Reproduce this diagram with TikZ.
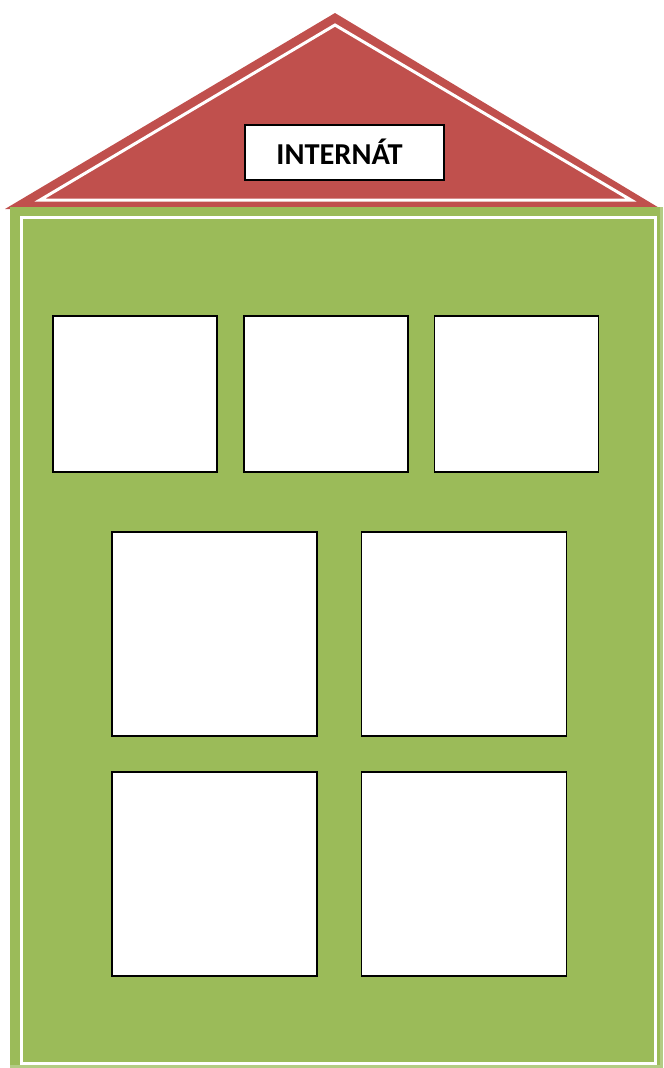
\documentclass[tikz,border=0pt]{standalone}
\usepackage{fontspec}
\setmainfont{Carlito}
\definecolor{roofred}{HTML}{C0504D}
\definecolor{bodygreen}{HTML}{9BBB59}
\definecolor{edgegreen}{HTML}{B3CC84}
\tikzset{
  win/.style={draw=black, line width=1.5bp, fill=white},
  whiteline/.style={draw=white, line width=3bp},
}
\begin{document}
\begin{tikzpicture}[x=1bp,y=-1bp]
\useasboundingbox (0,0) rectangle (664,1068);
% roof
\coordinate (rl) at (5,209);
\coordinate (rr) at (661,209);
\coordinate (ra) at (335,13);
\fill[roofred] (rl) -- (ra) -- (rr) -- cycle;
\draw[whiteline, line join=miter] (40,200) -- (335,25) -- (631,200) -- cycle;
% body
\fill[edgegreen] (10,207) rectangle (663,1068);
\fill[bodygreen] (10,207) rectangle (660,1065);
\draw[whiteline] (21,217) rectangle (655,1063);
% label
\node[draw=black, line width=2bp, fill=white, minimum width=199bp, minimum height=55bp, inner sep=0pt, font=\bfseries\fontsize{30.5}{32}\selectfont] (label) at (344,152) {\hspace*{-9bp}INTERNÁT};
% windows
\node[win, minimum width=164bp, minimum height=156bp] (w1) at (135,394) {};
\node[win, minimum width=164bp, minimum height=156bp] (w2) at (326,394) {};
\node[win, minimum width=164bp, minimum height=156bp] (w3) at (516.5,394) {};
\node[win, minimum width=205bp, minimum height=204bp] (w4) at (214.5,634) {};
\node[win, minimum width=205bp, minimum height=204bp] (w5) at (464,634) {};
\node[win, minimum width=205bp, minimum height=204bp] (w6) at (214.5,874) {};
\node[win, minimum width=205bp, minimum height=204bp] (w7) at (464,874) {};
\end{tikzpicture}
\end{document}
